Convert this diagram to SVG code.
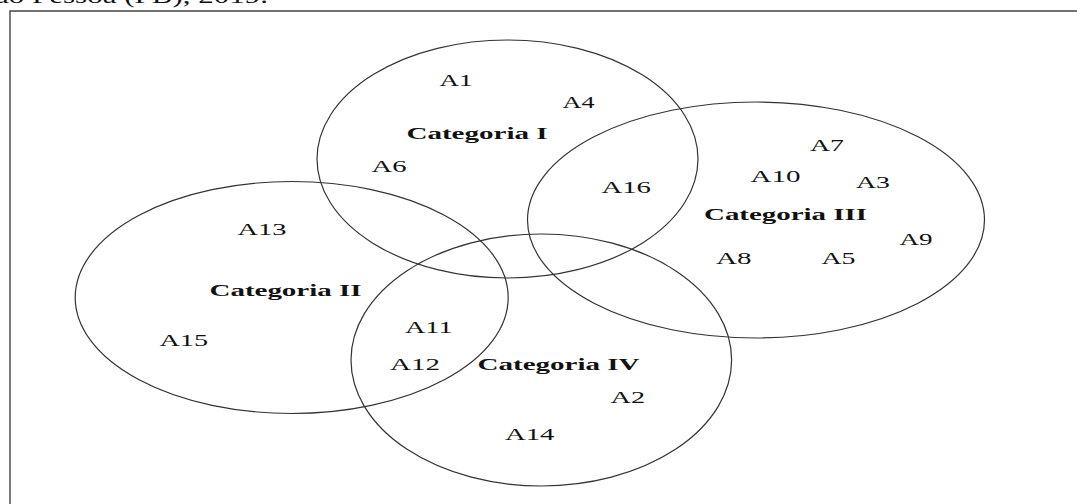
<svg xmlns="http://www.w3.org/2000/svg" width="1077" height="504" viewBox="0 0 1077 504">
<style>
.c{fill:none;stroke:#333;stroke-width:1.2}
.t{font-family:"Liberation Serif","Times New Roman",serif;font-size:16px;fill:#111}
.b{font-weight:bold}
.f{fill:none;stroke:#444;stroke-width:1.4}
</style>
<rect width="1077" height="504" fill="#fff"/>
<text class="t" x="-5" y="3" style="font-size:21px" textLength="273" lengthAdjust="spacingAndGlyphs">ão Pessoa (PB), 2019.</text>
<g id="frame">
<path class="f" d="M10,504 V11 H1077"/>
</g>
<g id="cat1">
<ellipse class="c" cx="507.5" cy="159" rx="190.5" ry="119"/>
<text class="t b" x="406.5" y="139" textLength="141" lengthAdjust="spacingAndGlyphs">Categoria I</text>
</g>
<g id="cat3">
<ellipse class="c" cx="756" cy="220" rx="228.5" ry="118"/>
<text class="t b" x="704" y="220" textLength="163" lengthAdjust="spacingAndGlyphs">Categoria III</text>
</g>
<g id="cat2">
<ellipse class="c" cx="291.7" cy="297.5" rx="216.5" ry="116"/>
<text class="t b" x="209.5" y="296" textLength="152" lengthAdjust="spacingAndGlyphs">Categoria II</text>
</g>
<g id="cat4">
<ellipse class="c" cx="541.3" cy="360" rx="190.3" ry="126"/>
<text class="t b" x="477.5" y="370" textLength="162" lengthAdjust="spacingAndGlyphs">Categoria IV</text>
</g>
<g id="items">
<text class="t" x="439.5" y="85.5" textLength="33" lengthAdjust="spacingAndGlyphs">A1</text>
<text class="t" x="562.5" y="107.5" textLength="32" lengthAdjust="spacingAndGlyphs">A4</text>
<text class="t" x="371.5" y="171.5" textLength="35" lengthAdjust="spacingAndGlyphs">A6</text>
<text class="t" x="601.5" y="192.5" textLength="49.5" lengthAdjust="spacingAndGlyphs">A16</text>
<text class="t" x="810" y="150.5" textLength="34" lengthAdjust="spacingAndGlyphs">A7</text>
<text class="t" x="750.5" y="181.5" textLength="50" lengthAdjust="spacingAndGlyphs">A10</text>
<text class="t" x="856" y="187.5" textLength="34" lengthAdjust="spacingAndGlyphs">A3</text>
<text class="t" x="899.5" y="244.5" textLength="33" lengthAdjust="spacingAndGlyphs">A9</text>
<text class="t" x="716" y="263.5" textLength="35.5" lengthAdjust="spacingAndGlyphs">A8</text>
<text class="t" x="821.5" y="263.5" textLength="34" lengthAdjust="spacingAndGlyphs">A5</text>
<text class="t" x="237.5" y="235" textLength="49" lengthAdjust="spacingAndGlyphs">A13</text>
<text class="t" x="159.5" y="345.5" textLength="48.5" lengthAdjust="spacingAndGlyphs">A15</text>
<text class="t" x="405" y="332.5" textLength="47.5" lengthAdjust="spacingAndGlyphs">A11</text>
<text class="t" x="390" y="370" textLength="50" lengthAdjust="spacingAndGlyphs">A12</text>
<text class="t" x="610.5" y="402.5" textLength="34.5" lengthAdjust="spacingAndGlyphs">A2</text>
<text class="t" x="505" y="440" textLength="49.5" lengthAdjust="spacingAndGlyphs">A14</text>
</g>
</svg>
